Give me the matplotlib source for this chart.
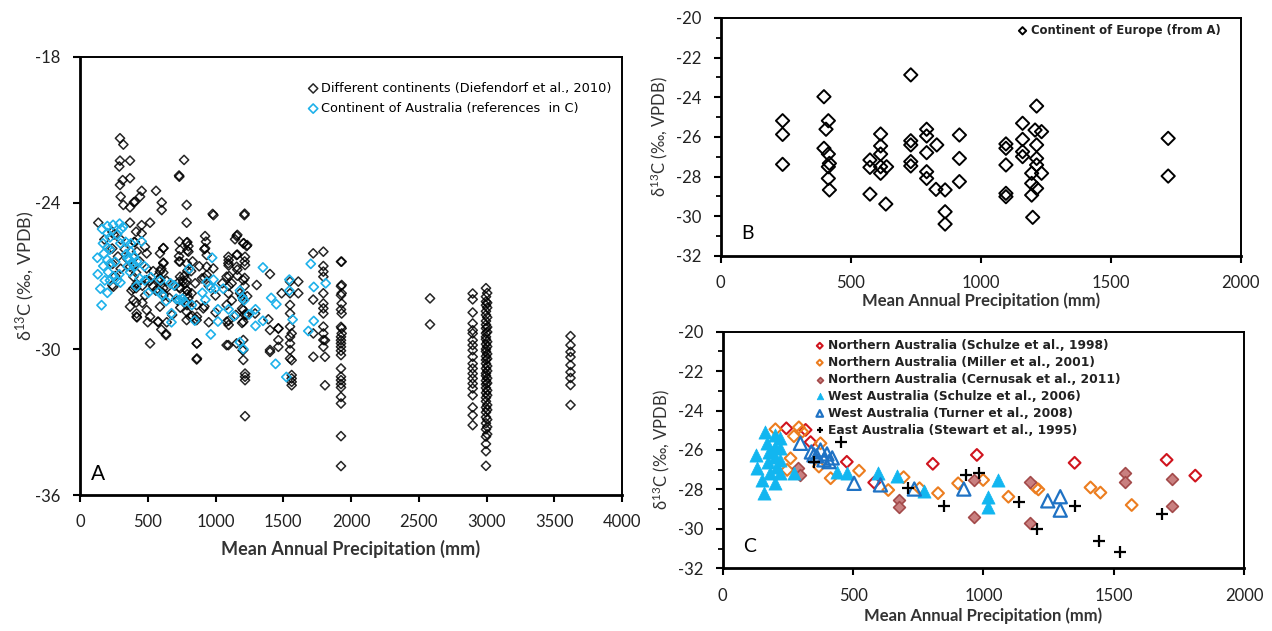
import numpy as np
import matplotlib.pyplot as plt
from matplotlib.ticker import MultipleLocator

plt.rcParams['font.family'] = ['Lato', 'DejaVu Sans']
plt.rcParams['mathtext.default'] = 'regular'
plt.rcParams['axes.unicode_minus'] = False

# ---- Panel C: Australian data sets (also shown in blue in A) ----
schulze98_x = [244, 318, 337, 476, 581, 806, 975, 1350, 1703, 1813]
schulze98_y = [-24.9, -24.98, -25.6, -26.6, -27.65, -26.7, -26.25, -26.65, -26.5, -27.3]

miller_x = [202, 260, 247, 273, 292, 305, 375, 369, 414, 523, 694, 635, 755, 826, 903, 999, 1096, 1200, 1211, 1411, 1449, 1569]
miller_y = [-24.95, -26.42, -27.01, -25.3, -24.85, -25.07, -25.66, -26.84, -27.43, -27.05, -27.38, -28.03, -27.94, -28.19,
            -27.69, -27.52, -28.37, -27.9, -28.0, -27.9, -28.16, -28.79]

cernusak_x = [290, 298, 675, 675, 965, 965, 1180, 1180, 1545, 1545, 1725, 1725]
cernusak_y = [-26.93, -27.27, -28.53, -28.9, -27.5, -29.4, -27.6, -29.72, -27.15, -27.6, -27.45, -28.85]

schulze06_x = [128, 131, 150, 159, 163, 170, 176, 172, 183, 202, 202, 202, 208, 202, 221, 221, 221, 221,
               273, 440, 478, 594, 668, 771, 1018, 1018, 1057]
schulze06_y = [-26.25, -26.93, -27.52, -28.2, -25.07, -25.66, -26.08, -26.59, -27.18, -25.24, -25.83, -26.34, -26.84,
               -27.69, -25.41, -25.91, -26.5, -27.18, -27.18, -27.1, -27.18, -27.18, -27.3, -28.07, -28.37, -28.87, -27.52]

turner_x = [298, 340, 350, 360, 375, 388, 400, 408, 420, 504, 605, 735, 925, 1247, 1295, 1295]
turner_y = [-25.66, -26.1, -26.25, -26.3, -26.0, -26.5, -26.2, -26.59, -26.4, -27.69, -27.77, -27.98, -27.98,
            -28.58, -28.37, -29.05]

stewart_x = [350, 455, 710, 847, 935, 985, 1137, 1205, 1350, 1443, 1523, 1685]
stewart_y = [-26.6, -25.58, -27.94, -28.83, -27.25, -27.15, -28.65, -30.0, -28.84, -30.61, -31.15, -29.26]

# ---- Panel B: Europe (part of the Diefendorf set) ----
europe_x = [238, 238, 238, 397, 414, 405, 397, 414, 418, 414, 414, 418,
            615, 615, 615, 574, 574, 615, 638, 615, 574, 635,
            731, 731, 731, 731, 731, 792, 792, 831, 792, 792, 792, 828, 863, 863, 863,
            918, 918, 918, 1097, 1097, 1097, 1097, 1097, 1161, 1161, 1161, 1161,
            1215, 1209, 1234, 1215, 1215, 1215, 1196, 1234, 1196, 1215, 1196, 1200, 1721, 1721]
europe_y = [-25.18, -25.87, -27.38, -23.97, -25.18, -25.61, -26.57, -26.86, -27.33, -27.5, -28.09, -28.67,
            -25.85, -26.45, -26.86, -27.16, -27.53, -27.5, -27.5, -27.83, -28.88, -29.38,
            -22.87, -26.19, -26.4, -27.24, -27.46, -25.61, -25.95, -26.4, -26.79, -27.75, -28.09, -28.64, -28.67, -29.77, -30.39,
            -25.9, -27.08, -28.25, -26.35, -26.57, -27.41, -28.84, -29.01, -25.31, -26.12, -26.74, -26.99,
            -24.44, -25.65, -25.73, -26.4, -27.08, -27.41, -27.83, -27.83, -28.34, -28.59, -28.93, -30.05, -26.07, -27.97]

# ---- Panel A: other continents (scattered points) ----
dief_x = [295, 320, 295, 369, 290, 315, 369, 295, 300, 320, 369, 406, 443, 455, 561, 603, 603, 768, 733, 787, 787,
          979, 985, 1213, 135, 369, 455, 517, 455, 923, 1156, 480, 733, 787, 800, 930, 923, 1144, 1205, 1230,
          492, 615, 590, 738, 800, 935, 1095, 1156, 1218, 1796, 1931,
          615, 738, 787, 935, 984, 1095, 1156, 1218, 1796, 1796, 1402, 590, 492, 369,
          394, 492, 590, 738, 787, 935, 1082, 1119, 1205, 1304, 1550, 1611, 1796, 1931,
          246, 394, 541, 615, 738, 787, 824, 1095, 1181, 1205, 1488, 1550, 1611, 1796, 1931,
          369, 394, 418, 492, 517, 590, 787, 812, 849, 910, 1082, 1205, 1230, 1292, 1390, 1550, 1550, 1796, 1796, 1796, 1931, 1931,
          578, 787, 861, 1082, 1205, 1402, 1464, 1550, 1562, 1722, 1796, 1796, 1931, 1931, 635,
          517, 861, 1082, 1156, 1205, 1205, 1205, 1402, 1464, 1464, 1550, 1550, 1550, 1550, 1722, 1796, 1796, 1808,
          861, 1095, 1218, 1218, 1218, 1218, 1402, 1464, 1562, 1562, 1562, 1562, 1562, 1808, 1808, 2583, 2583,
          780, 790, 800, 790, 770, 250, 300, 330, 350, 400, 420, 440, 460, 480, 510, 540, 560, 600, 640, 660, 700,
          720, 740, 760, 820, 850, 880, 900, 950, 1000, 1050, 1100, 1120, 1150, 1000, 950, 860, 680, 640, 600, 500,
          420, 460, 380, 300, 280, 180, 220, 240, 260]
dief_y = [-21.34, -21.6, -22.26, -22.26, -22.5, -23.06, -22.98, -23.26, -23.74, -24.08, -24.18, -23.95, -23.74, -23.5,
          -23.5, -23.98, -24.29, -22.23, -22.92, -24.08, -24.81, -24.45, -24.5, -24.5, -24.81, -24.81, -24.91, -24.81,
          -25.25, -25.36, -25.36, -25.8, -25.59, -25.63, -25.77, -25.59, -25.86, -25.49, -25.66, -25.77,
          -26.07, -25.86, -26.07, -25.93, -26.0, -26.14, -26.21, -26.14, -26.21, -26.0, -26.41,
          -26.48, -26.41, -26.48, -26.62, -26.69, -26.48, -26.62, -26.55, -26.59, -26.82, -26.92, -26.82, -26.69, -26.62,
          -27.03, -27.17, -27.1, -27.03, -27.17, -26.96, -27.03, -27.3, -27.17, -27.37, -27.23, -27.23, -27.03, -27.37,
          -27.44, -27.51, -27.44, -27.71, -27.51, -27.58, -27.71, -27.71, -27.71, -27.99, -27.71, -27.71, -27.71, -27.71, -27.71,
          -28.26, -27.99, -28.54, -28.4, -28.67, -28.26, -28.47, -28.67, -28.81, -28.33, -28.19, -28.4, -28.6, -28.54,
          -28.78, -28.19, -28.54, -28.13, -28.33, -28.54, -28.13, -28.54,
          -28.88, -28.81, -28.81, -28.88, -28.88, -29.22, -29.15, -29.08, -29.36, -29.36, -29.08, -29.36, -29.15, -29.36, -29.43,
          -29.77, -29.77, -29.84, -29.77, -29.63, -30.04, -30.45, -30.04, -29.63, -29.91, -29.5, -29.77, -30.04, -30.39,
          -30.32, -29.63, -29.91, -30.32,
          -30.43, -29.84, -31.01, -31.14, -31.28, -32.76, -30.12, -29.16, -30.46, -31.07, -31.21, -31.35, -31.49,
          -29.64, -31.49, -27.92, -28.99,
          -27.3, -27.6, -27.9, -28.2, -27.0, -25.3, -25.5, -25.9, -26.3, -25.6, -26.0, -26.4, -27.4, -27.8, -27.2, -26.8,
          -27.6, -26.7, -27.2, -27.9, -27.4, -28.0, -28.3, -27.2, -26.8, -27.3, -26.6, -27.1, -27.4, -27.8, -27.3, -27.0,
          -28.0, -28.6, -28.5, -28.9, -28.2, -28.6, -28.9, -29.2, -28.9, -28.7, -28.1, -27.6, -26.7, -26.2, -25.5, -25.9,
          -26.5, -27.0]

# ---- Panel A: high-rainfall columns ----
column_x = [1926, 2898, 2996, 3005, 3620]
column_y = [
    [-26.41, -27.42, -27.79, -28.38, -29.09, -29.5, -29.64, -29.77, -29.91, -30.07, -30.25, -30.8, -31.14, -31.28,
     -31.44, -31.58, -31.97, -32.24, -33.58, -34.81],
    [-27.72, -27.96, -28.5, -28.95, -29.23, -29.36, -29.64, -29.84, -30.05, -30.32, -30.6, -30.8, -31.01, -31.21,
     -31.42, -31.62, -31.9, -32.4, -32.72, -33.13],
    [-27.5, -27.85, -28.05, -28.2, -28.45, -28.6, -28.85, -29.0, -29.15, -29.35, -29.5, -29.6, -29.8, -30.0, -30.1,
     -30.3, -30.45, -30.6, -30.8, -31.0, -31.1, -31.3, -31.45, -31.6, -31.8, -32.0, -32.15, -32.4, -32.6, -32.8,
     -33.05, -33.3, -33.6, -33.9, -34.2, -34.8],
    [-27.7, -28.1, -28.3, -28.7, -29.1, -29.3, -29.7, -29.9, -30.2, -30.4, -30.7, -30.9, -31.2, -31.4, -31.7, -31.9,
     -32.3, -32.5, -32.9, -33.2, -33.5],
    [-29.47, -29.84, -30.12, -30.33, -30.66, -30.95, -31.19, -31.48, -32.3],
]

aus_x = schulze98_x + miller_x + cernusak_x + schulze06_x + turner_x + stewart_x
aus_y = schulze98_y + miller_y + cernusak_y + schulze06_y + turner_y + stewart_y
col_xs = np.repeat(column_x, [len(c) for c in column_y])
col_ys = np.concatenate(column_y)
all_x = np.concatenate([dief_x, europe_x, col_xs])
all_y = np.concatenate([dief_y, europe_y, col_ys])

fig = plt.figure(figsize=(12.72, 6.31), dpi=100)
axA = fig.add_axes([0.0629, 0.2155, 0.4261, 0.6942])
axB = fig.add_axes([0.5666, 0.5943, 0.4088, 0.3772])
axC = fig.add_axes([0.5682, 0.0994, 0.4098, 0.3749])

ylab = 'δ$^{13}$C (‰, VPDB)'
xlab = 'Mean Annual Precipitation (mm)'
leg_font = {'family': 'DejaVu Sans', 'size': 8.8, 'weight': 'bold'}


def style(ax, lab_size, xpad, ypad):
    for s in ['left', 'bottom']:
        ax.spines[s].set_linewidth(2.0)
    for s in ['top', 'right']:
        ax.spines[s].set_linewidth(1.4)
    ax.tick_params(direction='out', length=5, width=1.5, labelsize=12, pad=9, labelcolor='#222222')
    ax.tick_params(which='minor', direction='out', length=3.5, width=1.3)
    ax.set_xlabel(xlab, fontsize=lab_size, fontweight='bold', color='#333333', labelpad=xpad)
    ax.set_ylabel(ylab, fontsize=lab_size, color='#333333', labelpad=ypad)


# Panel A
axA.scatter(all_x, all_y, marker='D', s=22, facecolors='none', edgecolors='black', linewidths=1.1, alpha=0.85,
            label='Different continents (Diefendorf et al., 2010)')
axA.scatter(aus_x, aus_y, marker='D', s=22, facecolors='none', edgecolors='#1eb1ea', linewidths=1.2,
            label='Continent of Australia (references  in C)')
axA.set_xlim(0, 4000)
axA.set_ylim(-36, -18)
axA.xaxis.set_major_locator(MultipleLocator(500))
axA.yaxis.set_major_locator(MultipleLocator(6))
style(axA, 13, 7, -1.5)
axA.text(0.02, 0.035, 'A', transform=axA.transAxes, fontsize=15)
axA.legend(loc='upper right', bbox_to_anchor=(0.99, 0.955), frameon=False, handletextpad=0.1, borderaxespad=0,
           labelspacing=0.55, prop={'family': 'DejaVu Sans', 'size': 9.3}, handlelength=1.0)

# Panel B
axB.scatter(europe_x, europe_y, marker='D', s=46, facecolors='none', edgecolors='black', linewidths=1.4,
            label='Continent of Europe (from A)')
axB.set_xlim(0, 2000)
axB.set_ylim(-32, -20)
axB.xaxis.set_major_locator(MultipleLocator(500))
axB.yaxis.set_major_locator(MultipleLocator(2))
axB.yaxis.set_minor_locator(MultipleLocator(1))
style(axB, 12, 0.5, 4)
axB.text(0.04, 0.07, 'B', transform=axB.transAxes, fontsize=14)
axB.legend(loc='upper right', bbox_to_anchor=(0.97, 0.995), frameon=False, handletextpad=0.2, borderaxespad=0,
           prop={'family': 'DejaVu Sans', 'size': 8.4, 'weight': 'bold'}, handlelength=1.0, markerscale=0.55,
           labelcolor='#222222')

# Panel C
axC.scatter(schulze98_x, schulze98_y, marker='D', s=36, facecolors='none', edgecolors='#d0141e', linewidths=1.5,
            label='Northern Australia (Schulze et al., 1998)')
axC.scatter(miller_x, miller_y, marker='D', s=36, facecolors='none', edgecolors='#ec7d1f', linewidths=1.5,
            label='Northern Australia (Miller et al., 2001)')
axC.scatter(cernusak_x, cernusak_y, marker='D', s=36, facecolors='#c98080', edgecolors='#a34a4a', linewidths=1.2,
            label='Northern Australia (Cernusak et al., 2011)')
axC.scatter(schulze06_x, schulze06_y, marker='^', s=90, facecolors='#12b6f0', edgecolors='#12b6f0', linewidths=0.5,
            label='West Australia (Schulze et al., 2006)')
axC.scatter(turner_x, turner_y, marker='^', s=90, facecolors='none', edgecolors='#1f72c4', linewidths=1.6,
            label='West Australia (Turner et al., 2008)')
axC.scatter(stewart_x, stewart_y, marker='+', s=75, color='black', linewidths=1.6,
            label='East Australia (Stewart et al., 1995)')
axC.set_xlim(0, 2000)
axC.set_ylim(-32, -20)
axC.xaxis.set_major_locator(MultipleLocator(500))
axC.yaxis.set_major_locator(MultipleLocator(2))
axC.yaxis.set_minor_locator(MultipleLocator(1))
style(axC, 12, 2.5, 4)
axC.text(0.04, 0.07, 'C', transform=axC.transAxes, fontsize=14)
axC.legend(loc='upper left', bbox_to_anchor=(0.165, 0.99), frameon=False, handletextpad=0.2, borderaxespad=0,
           labelspacing=0.32, prop=leg_font, handlelength=1.0, markerscale=0.5, labelcolor='#222222')

fig.savefig('out.png', dpi=100)
